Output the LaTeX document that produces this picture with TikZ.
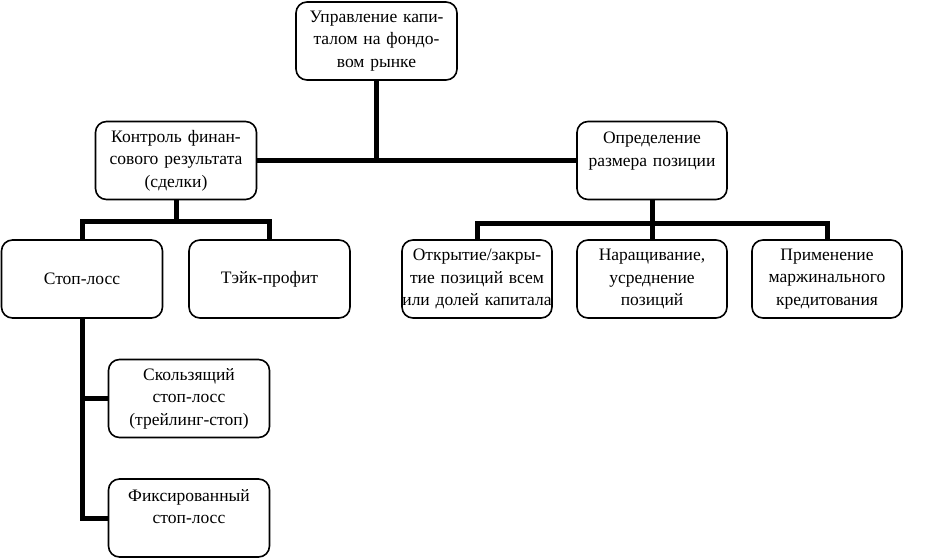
\documentclass[tikz,border=0pt]{standalone}
\usepackage{fontspec}
\setmainfont{Liberation Serif}
\usepackage{tikz}

\begin{document}
\begin{tikzpicture}[x=1pt, y=-1pt,
  box/.style={draw, line width=1.6pt, rounded corners=11pt, align=center,
    inner xsep=0pt, minimum height=78pt, font=\fontsize{17.5}{22.5}\selectfont},
  wide/.style={box, text width=161pt},
  narrow/.style={box, text width=150pt},
  link/.style={line width=5pt}]
  \useasboundingbox (0, 0) rectangle (942, 559);
  \node [wide] (T) at (376.5, 41) {Управление капи-\\талом на фондо-\\вом рынке};
  \node [wide] (FC) at (176, 160.5) {Контроль финан-\\сового результата\\(сделки)};
  \node [narrow] (PS) at (652, 160.5) {Определение\\размера позиции\\~};
  \node [wide] (SL) at (82, 279) {Стоп-лосс};
  \node [wide] (TP) at (269.5, 279) {Тэйк-профит};
  \node [narrow] (OC) at (477, 279) {Открытие/закры-\\тие позиций всем\\или долей капитала};
  \node [narrow] (AV) at (652, 279) {Наращивание,\\усреднение\\позиций};
  \node [narrow] (MC) at (827, 279) {Применение\\маржинального\\кредитования};
  \node [wide] (TS) at (189, 398.5) {Скользящий\\стоп-лосс\\(трейлинг-стоп)};
  \node [wide] (FS) at (189, 518) {Фиксированный\\стоп-лосс\\~};
  \coordinate (LJ) at (176, 221);
  \coordinate (RJ) at (652, 223);
  \draw [link] (T) -- (T |- FC);
  \draw [link] (FC) -- (PS);
  \draw [link] (FC) -- (LJ);
  \draw [link] (SL) |- (LJ) -| (TP);
  \draw [link] (PS) -- (AV);
  \draw [link] (OC) |- (RJ) -| (MC);
  \draw [link] (SL) -- (SL |- FS) -- (FS);
  \draw [link] (SL |- TS) -- (TS);
\end{tikzpicture}
\end{document}
